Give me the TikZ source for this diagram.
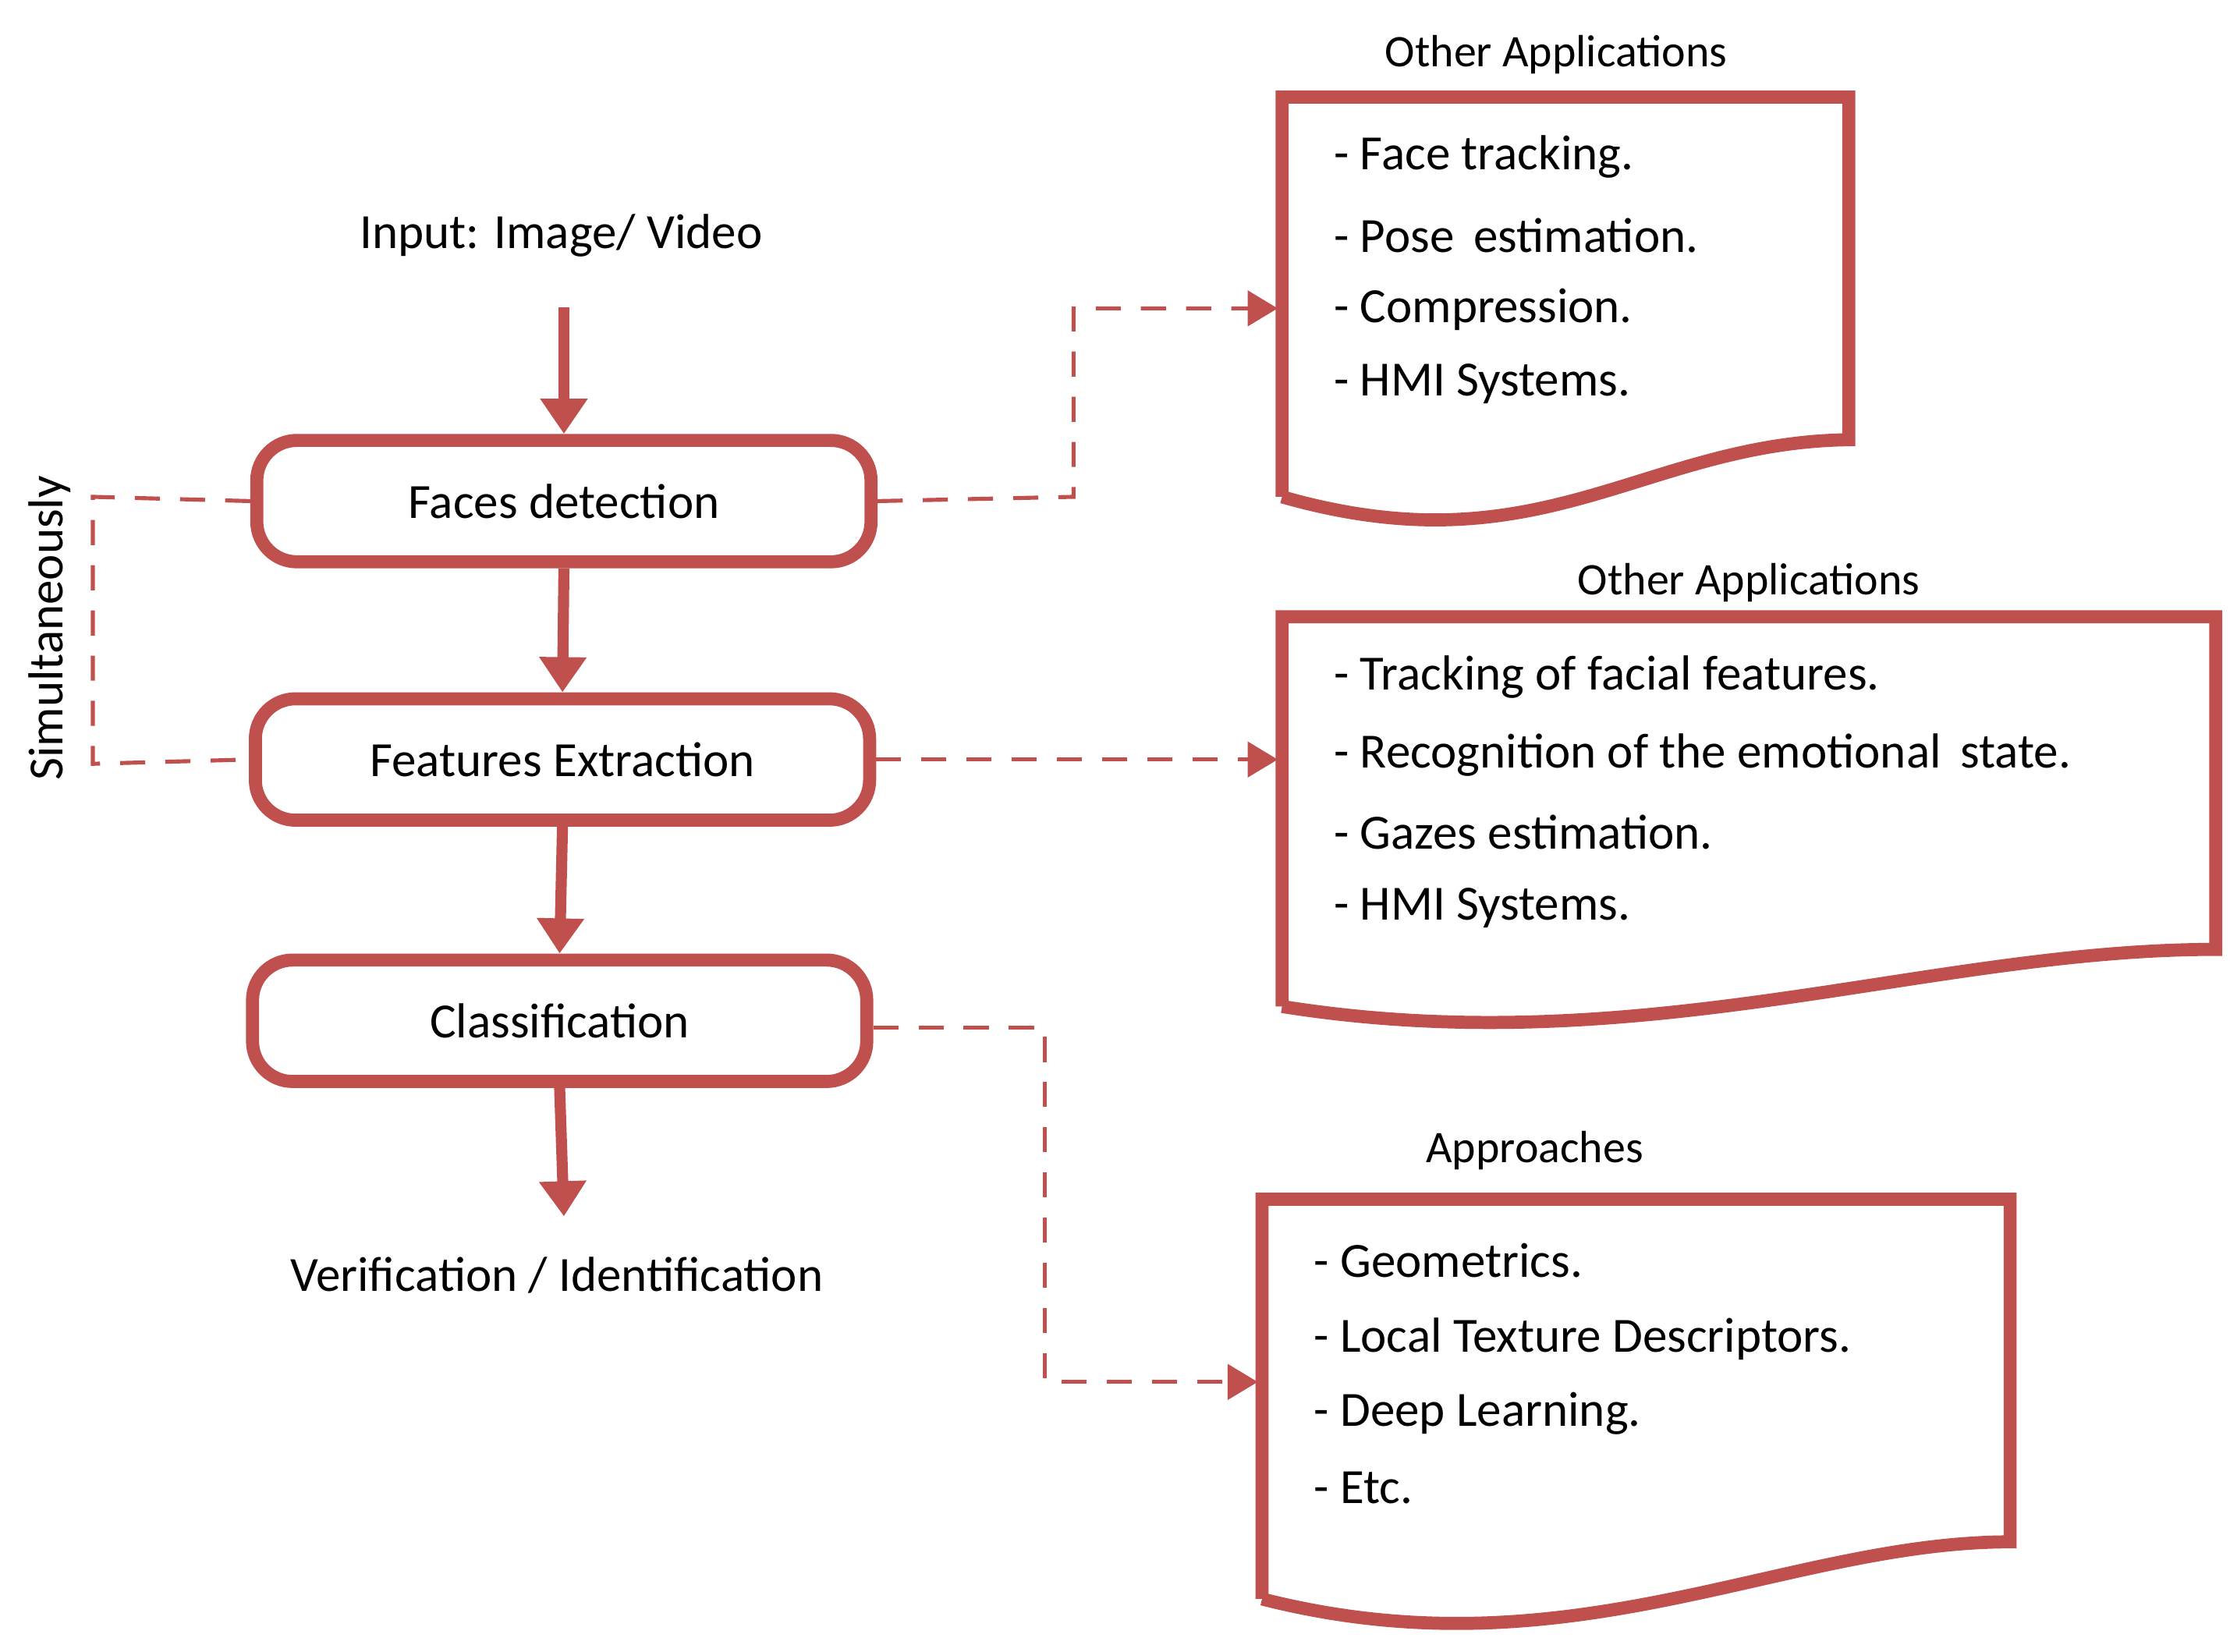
\documentclass[tikz,border=0pt]{standalone}
\usepackage{fontspec}
\setmainfont{Carlito}
\usetikzlibrary{arrows.meta}
\definecolor{rd}{HTML}{C0504D}
\begin{document}
\begin{tikzpicture}[x=0.01cm,y=-0.01cm,
  box/.style={draw=rd,line width=2.6pt,rounded corners=8pt,minimum width=4.3cm,minimum height=0.85cm,font=\fontsize{9.8}{12}\selectfont},
  arr/.style={draw=rd,line width=2.2pt,-{Triangle[length=7pt,width=9pt]}},
  dsh/.style={draw=rd,line width=0.8pt,dash pattern=on 5pt off 4pt},
  darr/.style={dsh,-{Triangle[length=6pt,width=7pt]}},
  doc/.style={draw=rd,line width=2.6pt},
  txt/.style={font=\fontsize{9.8}{12}\selectfont},
  ttl/.style={font=\fontsize{9}{11}\selectfont},
  it/.style={anchor=west,font=\fontsize{9.8}{12}\selectfont}]
\useasboundingbox (0,0) rectangle (1562,1157);
\node[txt] (in) at (393,165) {Input: Image/ Video};
\node[box] (fd) at (395,351) {Faces detection};
\node[box] (fe) at (394,532) {Features Extraction};
\node[box] (cl) at (392,715) {Classification};
\node[txt] (ver) at (390,893) {Verification / Identification};
\node[txt,rotate=90] (sim) at (35,440) {Simultaneously};
\draw[arr] (395,215) -- (fd.north);
\draw[arr] (fd.south) -- (fe.north);
\draw[arr] (fe.south) -- (cl.north);
\draw[arr] (cl.south) -- (395,852);
% documents
\draw[doc] (898,348) -- (898,68) -- (1295,68) -- (1295,308) .. controls (1150,310) and (1080,400) .. (898,348);
\draw[doc] (898,705) -- (898,432) -- (1552,432) -- (1552,665) .. controls (1350,665) and (1150,745) .. (898,705);
\draw[doc] (884,1120) -- (884,840) -- (1408,840) -- (1408,1080) .. controls (1250,1080) and (1100,1175) .. (884,1120);
\coordinate (d1) at (895,216);
\coordinate (d2) at (895,532);
\coordinate (d3) at (881,968);
\node[ttl] (t1) at (1090,38) {Other Applications};
\node[ttl] (t2) at (1225,408) {Other Applications};
\node[ttl] (t3) at (1075,806) {Approaches};
\node[it] (a1) at (922,110) {- Face tracking.};
\node[it] (a2) at (922,165) {- Pose\, estimation.};
\node[it] (a3) at (922,217) {- Compression.};
\node[it] (a4) at (922,269) {- HMI Systems.};
\node[it] (b1) at (922,474) {- Tracking of facial features.};
\node[it] (b2) at (922,529) {- Recognition of the emotional\, state.};
\node[it] (b3) at (922,583) {- Gazes estimation.};
\node[it] (b4) at (922,636) {- HMI Systems.};
\node[it] (c1) at (908,883) {- Geometrics.};
\node[it] (c2) at (908,938) {- Local Texture Descriptors.};
\node[it] (c3) at (908,990) {- Deep Learning.};
\node[it] (c4) at (908,1042) {- Etc.};
% dashed
\draw[dsh] (fd.west) -- (65,348) -- (65,535) -- (fe.west);
\draw[darr] (fd.east) -- (752,348) -- (752,216) -- (d1);
\draw[darr] (fe.east) -- (d2);
\draw[darr] (cl.east) ++(0,5) -- (732,720) -- (732,968) -- (d3);
\end{tikzpicture}
\end{document}
